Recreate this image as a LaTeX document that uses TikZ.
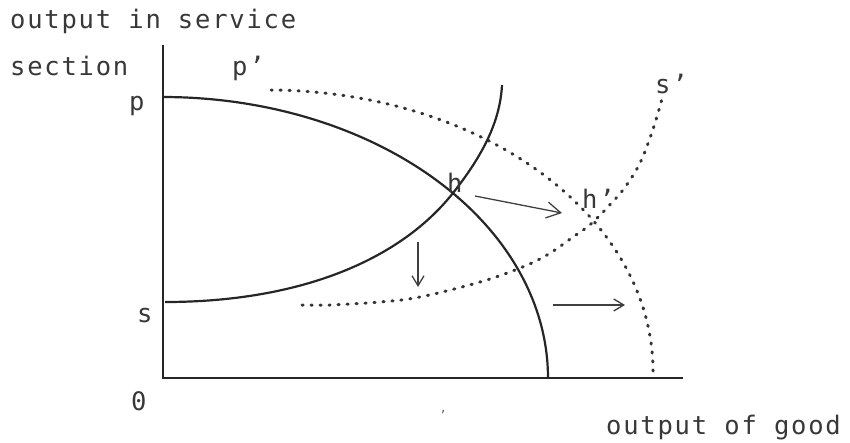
\documentclass[tikz,border=0pt]{standalone}
\usepackage{fontspec}
\newfontfamily\lab[LetterSpace=7]{DejaVu Sans Mono}
\usetikzlibrary{arrows.meta}
\begin{document}
\begin{tikzpicture}[x=1pt,y=-1pt,
 txt/.style={inner sep=0pt, anchor=base west, font=\lab\fontsize{25.5}{30}\selectfont, text=black!78},
 solidcurve/.style={line width=2.2pt, black!85},
 dotcurve/.style={line width=3pt, black!80, line cap=round, dash pattern=on 1.2pt off 7.8pt},
 axisline/.style={line width=2.3pt, black!85},
 shiftarrow/.style={line width=1.3pt, black!75, -{Straight Barb[length=10pt,width=12pt,line width=1.3pt]}},
 bigshift/.style={shiftarrow, -{Straight Barb[length=14pt,width=16pt,line width=1.3pt]}}]
\useasboundingbox (0,0) rectangle (850,442);
% axes
\coordinate (O) at (163,378);
\coordinate (ytop) at (163,45);
\coordinate (xend) at (683,378);
\draw[axisline] (ytop) -- (O) -- (xend);
% production possibility curves
\draw[solidcurve] plot[domain=0:90,samples=90] ({163+385*cos(\x)},{378-281*sin(\x)});
\draw[dotcurve] plot[domain=0:90,samples=90] ({268+385*cos(\x)},{371-281*sin(\x)});
% s curves
\coordinate (s0) at (165,302);
\coordinate (hpt) at (453,193);
\coordinate (s1) at (502,85);
\draw[solidcurve] (s0) .. controls (300,302) and (400,260) .. (hpt)
                       .. controls (479,160) and (500,125) .. (s1);
\draw[dotcurve] plot[smooth, tension=0.6] coordinates {(302,305) (330,305) (380,302) (420,297) (480,282) (520,268) (547,255) (573,237) (592,223) (617,197) (628,183) (640,163) (650,138) (658,113) (663,95)};
% shift arrows
\coordinate (a1s) at (475,196); \coordinate (a1e) at (562,213);
\coordinate (a2s) at (418,242); \coordinate (a2e) at (418,287);
\coordinate (a3s) at (553,305); \coordinate (a3e) at (625,305);
\draw[bigshift] (a1s) -- (a1e);
\draw[shiftarrow] (a2s) -- (a2e);
\draw[shiftarrow] (a3s) -- (a3e);
% labels
\node[txt] (yl1) at (10,28) {output in service};
\node[txt] (yl2) at (10,75) {section};
\node[txt] (pp) at (232,75) {p’};
\node[txt] (p) at (129,110) {p};
\node[txt] (s) at (137,322) {s};
\node[txt] (zero) at (131,410) {0};
\node[txt] (h) at (447,192) {h};
\node[txt] (hp) at (582,208) {h’};
\node[txt] (sp) at (655,93) {s’};
\node[txt] (xl) at (606,434) {output of good};
\node[inner sep=0pt, font=\lab\fontsize{12}{14}\selectfont, text=black!60] (mark) at (443,415) {’};
\end{tikzpicture}
\end{document}
